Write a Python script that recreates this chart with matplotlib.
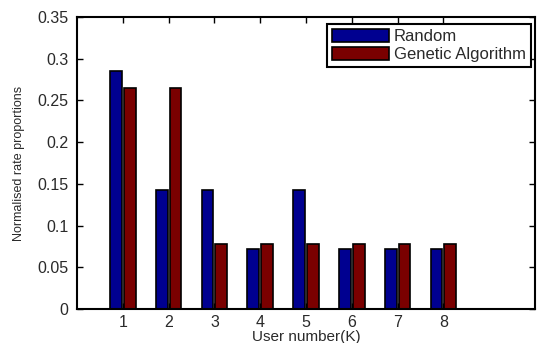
import numpy as np
import matplotlib
matplotlib.use("Agg")
import matplotlib.pyplot as plt

plt.rcParams['font.family'] = ['Liberation Sans', 'DejaVu Sans']

users = [1, 2, 3, 4, 5, 6, 7, 8]
random_vals = [0.2857, 0.1429, 0.1429, 0.0714, 0.1429, 0.0714, 0.0714, 0.0714]
ga_vals = [0.2647, 0.2647, 0.0775, 0.0775, 0.0775, 0.0775, 0.0775, 0.0775]
yticks = [0, 0.05, 0.1, 0.15, 0.2, 0.25, 0.3, 0.35]
ytick_labels = ["0", "0.05", "0.1", "0.15", "0.2", "0.25", "0.3", "0.35"]

fig = plt.figure(figsize=(5.37, 3.43), dpi=100)
ax = fig.add_axes([77/537, 1 - 309/343, 458/537, (309 - 17)/343])

x = np.array(users)
w = 0.26
ax.bar(x - 0.15, random_vals, w, color="#000090", edgecolor="black", linewidth=1.2, label="Random")
ax.bar(x + 0.15, ga_vals, w, color="#7a0000", edgecolor="black", linewidth=1.2, label="Genetic Algorithm")

ax.set_xlim(0, 10)
ax.set_ylim(0, 0.35)
ax.set_xticks(users)
ax.set_yticks(yticks)
ax.set_yticklabels(ytick_labels)
ax.tick_params(direction="in", top=True, right=True, labelsize=11.5, length=4, width=1,
               labelcolor="#2a2a2a")
ax.tick_params(axis="y", pad=6)
ax.tick_params(axis="x", pad=4)
for s in ax.spines.values():
    s.set_linewidth(1.5)

ax.set_xlabel("User number(K)", fontsize=11, labelpad=0, color="#2a2a2a")
ax.set_ylabel("Normalised rate proportions", fontsize=9, labelpad=9, color="#2a2a2a")

leg = ax.legend(loc="upper right", fontsize=12, fancybox=False, edgecolor="black",
                framealpha=1, bbox_to_anchor=(531/537, 1 - 24/343), bbox_transform=fig.transFigure,
                borderaxespad=0, handlelength=3.4, handleheight=0.85,
                borderpad=0.3, labelspacing=0.15, handletextpad=0.3)
leg.get_frame().set_linewidth(1.5)
for t in leg.get_texts():
    t.set_color("#2a2a2a")

plt.savefig("out.png", dpi=100)
